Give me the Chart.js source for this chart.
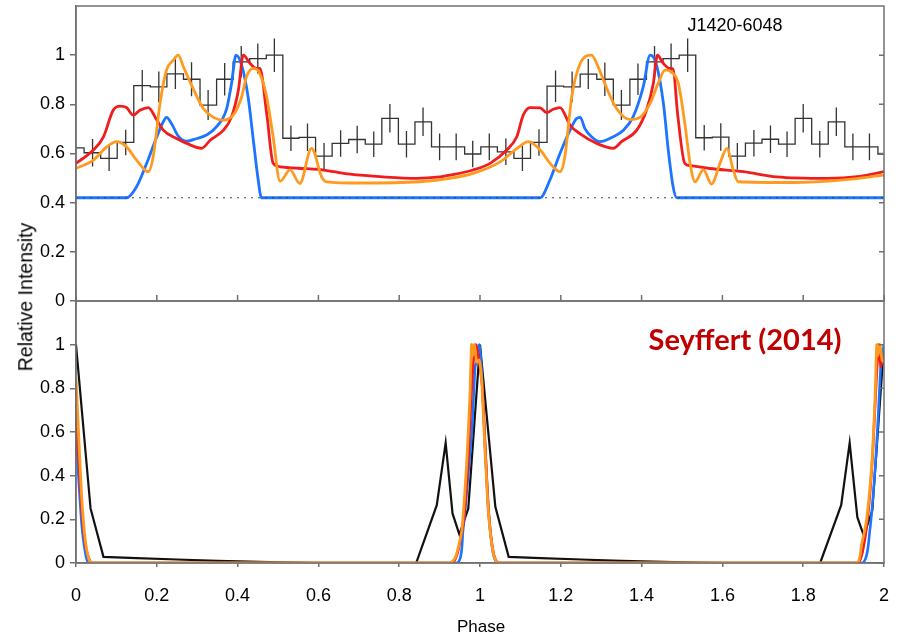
<!DOCTYPE html>
<html><head><meta charset="utf-8">
<script src="https://cdn.jsdelivr.net/npm/chart.js@4.4.1/dist/chart.umd.min.js"></script>
<style>
html,body{margin:0;padding:0;background:#fff;}
#wrap{position:relative;width:900px;height:637px;overflow:hidden;font-family:"Liberation Sans",Arial,sans-serif;background:#fff;}
canvas{position:absolute;left:0;}
.lbl{position:absolute;white-space:nowrap;transform:translate(-50%,-50%);color:#000;line-height:1;}
</style></head>
<body><div id="wrap">
<canvas id="cTop" width="900" height="310" style="top:0px;width:900px;height:310px"></canvas>
<canvas id="cBot" width="900" height="337" style="top:300px;width:900px;height:337px"></canvas>
<div class="lbl" style="left:735px;top:25px;font-size:18px">J1420-6048</div>
<div class="lbl" style="left:745px;top:338px;font-size:29px;font-weight:bold;color:#C00000;font-family:Lato,'Open Sans',sans-serif">Seyffert (2014)</div>
<div class="lbl" style="left:481px;top:626px;font-size:17px">Phase</div>
<div class="lbl" style="left:26px;top:297px;font-size:19.5px;transform:translate(-50%,-50%) rotate(-90deg)">Relative Intensity</div>
</div>
<script>
// ---------- tick values / labels ----------
const xTickVals = [0,0.2,0.4,0.6,0.8,1,1.2,1.4,1.6,1.8,2];
const xTickLabels = ['0','0.2','0.4','0.6','0.8','1','1.2','1.4','1.6','1.8','2'];
const yTickVals = [0,0.2,0.4,0.6,0.8,1];
const yTickLabels = ['0','0.2','0.4','0.6','0.8','1'];

// ---------- top panel: observed histogram (J1420-6048) ----------
const histEdges = [0,0.020,0.061,0.102,0.143,0.184,0.225,0.266,0.307,0.348,0.389,0.430,0.471,0.512,0.552,0.593,0.634,0.675,0.716,0.757,0.798,0.839,0.880,0.921,0.962,
  1.002,1.043,1.084,1.125,1.166,1.207,1.248,1.289,1.330,1.371,1.412,1.453,1.493,1.534,1.575,1.616,1.657,1.698,1.739,1.780,1.821,1.862,1.903,1.944,1.985,2.0];
const histLevels = [0.623,0.603,0.58,0.645,0.876,0.871,0.924,0.902,0.797,0.902,0.973,0.986,1.0,0.662,0.666,0.589,0.641,0.657,0.638,0.743,0.638,0.729,0.627,0.627,0.598,
  0.627,0.607,0.58,0.645,0.874,0.871,0.923,0.902,0.797,0.902,0.973,0.986,1.0,0.664,0.667,0.589,0.642,0.658,0.638,0.743,0.638,0.729,0.627,0.627,0.598];
const errX = [0.041,0.082,0.123,0.164,0.205,0.246,0.286,0.327,0.368,0.409,0.450,0.491,0.532,0.573,0.614,0.655,0.696,0.737,0.777,0.818,0.859,0.900,0.941,0.982,
  1.023,1.064,1.105,1.146,1.187,1.228,1.268,1.309,1.350,1.391,1.432,1.473,1.514,1.555,1.596,1.637,1.678,1.719,1.760,1.800,1.841,1.882,1.923,1.964];
const errHalf = [0.056,0.051,0.052,0.064,0.063,0.062,0.069,0.061,0.066,0.064,0.061,0.068,0.052,0.056,0.054,0.054,0.056,0.052,0.058,0.054,0.058,0.054,0.054,0.054,
  0.054,0.054,0.051,0.054,0.064,0.063,0.061,0.068,0.061,0.064,0.064,0.061,0.068,0.052,0.056,0.054,0.054,0.056,0.052,0.058,0.054,0.058,0.054,0.054];
const baseline = [[0,0.42],[2,0.42]];

// ---------- top panel: model light curves ----------
const topRed = [[0,0.56],[0.043,0.614],[0.068,0.668],[0.092,0.776],[0.109,0.793],[0.125,0.787],[0.142,0.756],[0.158,0.776],[0.179,0.787],[0.2,0.736],
  [0.216,0.695],[0.249,0.661],[0.274,0.641],[0.311,0.621],[0.332,0.654],[0.365,0.695],[0.385,0.749],[0.402,0.858],[0.414,1.0],[0.431,0.966],[0.447,0.946],
  [0.455,0.946],[0.472,0.763],[0.488,0.56],[0.505,0.546],[0.55,0.54],[0.6,0.535],[0.637,0.526],[0.678,0.516],[0.76,0.505],[0.843,0.499],[0.901,0.505],
  [0.926,0.512],[0.983,0.533],[1.025,0.56],[1.066,0.614],[1.091,0.668],[1.107,0.756],[1.124,0.787],[1.149,0.786],[1.165,0.766],[1.181,0.78],[1.198,0.787],
  [1.223,0.715],[1.248,0.68],[1.289,0.641],[1.33,0.621],[1.351,0.649],[1.388,0.695],[1.412,0.776],[1.429,0.885],[1.439,1.0],[1.454,0.966],[1.47,0.946],
  [1.478,0.944],[1.489,0.763],[1.507,0.56],[1.52,0.551],[1.569,0.539],[1.652,0.526],[1.734,0.505],[1.858,0.499],[1.94,0.507],[2.0,0.526]];
const topOrange = [[0,0.539],[0.043,0.573],[0.076,0.627],[0.101,0.648],[0.125,0.627],[0.15,0.573],[0.179,0.526],[0.191,0.587],[0.208,0.804],[0.224,0.939],
  [0.241,0.98],[0.253,1.0],[0.266,0.952],[0.29,0.864],[0.315,0.783],[0.34,0.747],[0.365,0.736],[0.389,0.756],[0.41,0.83],[0.422,0.912],[0.439,0.946],
  [0.455,0.925],[0.472,0.83],[0.488,0.668],[0.505,0.487],[0.53,0.533],[0.554,0.478],[0.583,0.621],[0.608,0.505],[0.62,0.485],[0.7,0.48],[0.85,0.485],
  [0.926,0.499],[0.983,0.519],[1.05,0.566],[1.091,0.62],[1.12,0.648],[1.149,0.614],[1.177,0.553],[1.198,0.526],[1.21,0.587],[1.227,0.83],[1.248,0.966],
  [1.276,1.0],[1.289,0.966],[1.314,0.864],[1.338,0.783],[1.371,0.738],[1.396,0.747],[1.421,0.804],[1.441,0.885],[1.458,0.939],[1.474,0.932],[1.491,0.885],
  [1.507,0.722],[1.52,0.56],[1.532,0.485],[1.553,0.533],[1.573,0.476],[1.594,0.56],[1.611,0.621],[1.627,0.533],[1.639,0.485],[1.775,0.482],[1.9,0.493],[2.0,0.512]];
const topBlue = [[0,0.42],[0.125,0.42],[0.15,0.465],[0.175,0.56],[0.2,0.668],[0.216,0.729],[0.224,0.747],[0.237,0.72],[0.253,0.671],[0.274,0.65],
  [0.299,0.661],[0.323,0.675],[0.348,0.709],[0.373,0.783],[0.385,0.885],[0.396,1.0],[0.41,0.959],[0.426,0.83],[0.439,0.654],[0.451,0.492],[0.459,0.42],
  [1.149,0.42],[1.173,0.492],[1.198,0.6],[1.223,0.695],[1.239,0.742],[1.248,0.747],[1.26,0.70],[1.276,0.668],[1.297,0.648],[1.33,0.668],[1.355,0.695],
  [1.379,0.749],[1.404,0.871],[1.421,1.0],[1.436,0.966],[1.454,0.804],[1.466,0.614],[1.478,0.465],[1.487,0.42],[2.0,0.42]];

// ---------- bottom panel (Seyffert 2014) ----------
const botBlack = [[0,1.0],[0.036,0.25],[0.068,0.028],[0.15,0.022],[0.25,0.016],[0.35,0.01],[0.48,0.004],[0.6,0],[0.842,0],[0.893,0.265],[0.915,0.55],
  [0.932,0.227],[0.949,0.13],[0.971,0.25],[1.0,1.0],[1.038,0.257],[1.071,0.028],[1.15,0.022],[1.25,0.016],[1.35,0.01],[1.48,0.004],[1.6,0],[1.842,0],
  [1.894,0.265],[1.915,0.55],[1.934,0.21],[1.95,0.125],[1.971,0.24],[2.0,1.0]];
const botOrange = [[0,0.847],[0.006,0.61],[0.014,0.303],[0.022,0.12],[0.03,0.03],[0.039,0],[0.926,0],[0.94,0.03],[0.955,0.15],[0.967,0.456],[0.975,0.763],
  [0.979,1.0],[0.982,0.95],[0.986,1.0],[0.992,0.92],[0.998,0.93],[1.004,0.84],[1.012,0.533],[1.021,0.227],[1.033,0.043],[1.045,0],[1.932,0],[1.945,0.089],
  [1.957,0.2],[1.97,0.456],[1.978,0.763],[1.982,1.0],[1.985,0.95],[1.99,1.0],[1.995,0.93],[2.0,0.92]];
const botRed = [[0,0.7],[0.006,0.5],[0.014,0.25],[0.022,0.1],[0.03,0.03],[0.04,0],[0.93,0],[0.945,0.05],[0.96,0.2],[0.97,0.45],[0.978,0.75],[0.985,0.95],
  [0.99,1.0],[0.995,0.96],[1.0,0.9],[1.006,0.8],[1.013,0.53],[1.022,0.22],[1.034,0.04],[1.046,0],[1.935,0],[1.95,0.08],[1.962,0.25],[1.972,0.5],[1.98,0.8],
  [1.987,1.0],[1.992,0.9],[1.996,0.95],[2.0,0.93]];
const botBlue = [[0,0.6],[0.006,0.4],[0.014,0.18],[0.022,0.06],[0.032,0],[0.942,0],[0.958,0.15],[0.971,0.41],[0.98,0.61],[0.988,0.9],[0.992,0.92],
  [0.998,1.0],[1.004,0.88],[1.012,0.56],[1.021,0.24],[1.032,0.05],[1.044,0],[1.945,0],[1.965,0.15],[1.978,0.43],[1.986,0.686],[1.992,0.9],[1.996,0.93],[2.0,1.0]];

// ---------- styling ----------
const AX = '#707070';
const RED = '#f11c1c', ORANGE = '#ff9a1f', BLUE = '#1d74ff';
const pts = a => a.map(p => ({x:p[0], y:p[1]}));
const FONT = {family:"'Liberation Sans', Arial, sans-serif", size:18};

const histData = histEdges.map((e,i) => ({x:e, y: histLevels[Math.min(i, histLevels.length-1)]}));
const errData = [];
errX.forEach((x,i) => { const lv = histLevels[i+1]; errData.push({x, y:lv-errHalf[i]}, {x, y:lv+errHalf[i]}, {x, y:null}); });

const framePlugin = {
  id:'frame',
  afterDraw(chart, args, opts){
    const {ctx, chartArea:a, scales} = chart;
    ctx.save();
    ctx.strokeStyle = AX; ctx.lineWidth = 1.5;
    ctx.strokeRect(a.left, a.top, a.right-a.left, a.bottom-a.top);
    ctx.beginPath();
    yTickVals.forEach(v => { const y = scales.y.getPixelForValue(v); ctx.moveTo(a.right, y); ctx.lineTo(a.right-opts.rightLen, y); });
    if (opts.bottomIn) xTickVals.forEach(v => { const x = scales.x.getPixelForValue(v); ctx.moveTo(x, a.bottom); ctx.lineTo(x, a.bottom-opts.bottomIn); });
    ctx.stroke();
    ctx.restore();
  }
};

const noPad = s => { s.paddingTop = 0; s.paddingBottom = 0; s.paddingLeft = 0; s.paddingRight = 0; };

function yScale(){
  return {
    min:0, max:1.2,
    afterBuildTicks: s => { s.ticks = yTickVals.map(v => ({value:v})); },
    afterFit: s => { s.width = 76; noPad(s); },
    ticks:{ callback:(v,i) => yTickLabels[i], font:FONT, color:'#000', padding:5, autoSkip:false },
    grid:{ drawOnChartArea:false, drawTicks:true, tickLength:6, color:AX, lineWidth:1.5 },
    border:{ display:true, color:AX, width:1.5 }
  };
}

const lineDs = (label, data, color, w, extra) => Object.assign({
  type:'line', label, data:pts(data), borderColor:color, borderWidth:w, pointRadius:0,
  fill:false, cubicInterpolationMode:'monotone'
}, extra||{});

new Chart(document.getElementById('cTop'), {
  type:'line',
  data:{ datasets:[
    lineDs('baseline', baseline, '#444', 1.2, {borderDash:[2,5], cubicInterpolationMode:'default'}),
    lineDs('orange', topOrange, ORANGE, 2.8),
    lineDs('red', topRed, RED, 2.8),
    lineDs('blue', topBlue, BLUE, 2.8),
    {type:'line', label:'hist', data:histData, borderColor:'#333', borderWidth:1.3, pointRadius:0, stepped:true, fill:false},
    {type:'line', label:'err', data:errData, borderColor:'#333', borderWidth:1.3, pointRadius:0, spanGaps:false, fill:false}
  ]},
  options:{
    responsive:false, animation:false, devicePixelRatio:1,
    layout:{ padding:{left:0, right:16, top:6, bottom:9} },
    plugins:{ legend:{display:false}, tooltip:{enabled:false}, frame:{rightLen:5, bottomIn:6} },
    scales:{
      x:{ type:'linear', min:0, max:2, display:false },
      y: yScale()
    }
  },
  plugins:[framePlugin]
});

new Chart(document.getElementById('cBot'), {
  type:'line',
  data:{ datasets:[
    lineDs('orange', botOrange, ORANGE, 2.8, {cubicInterpolationMode:'default', tension:0.2}),
    lineDs('red', botRed, RED, 2.6, {cubicInterpolationMode:'default', tension:0.2}),
    lineDs('blue', botBlue, BLUE, 2.6, {cubicInterpolationMode:'default', tension:0.2}),
    lineDs('black', botBlack, '#111', 2.2, {cubicInterpolationMode:'default', tension:0})
  ]},
  options:{
    responsive:false, animation:false, devicePixelRatio:1,
    layout:{ padding:{left:0, right:16, top:1, bottom:0} },
    plugins:{ legend:{display:false}, tooltip:{enabled:false}, frame:{rightLen:5, bottomIn:0} },
    scales:{
      x:{ type:'linear', min:0, max:2, offset:false,
        afterBuildTicks: s => { s.ticks = xTickVals.map(v => ({value:v})); },
        afterFit: s => { s.height = 74; noPad(s); },
        ticks:{ callback:(v,i) => xTickLabels[i], font:FONT, color:'#000', padding:18, autoSkip:false, maxRotation:0 },
        grid:{ drawOnChartArea:false, drawTicks:true, tickLength:4, color:AX, lineWidth:1.5 },
        border:{ display:true, color:AX, width:1.5 }
      },
      y: yScale()
    }
  },
  plugins:[framePlugin]
});
</script>
</body></html>
